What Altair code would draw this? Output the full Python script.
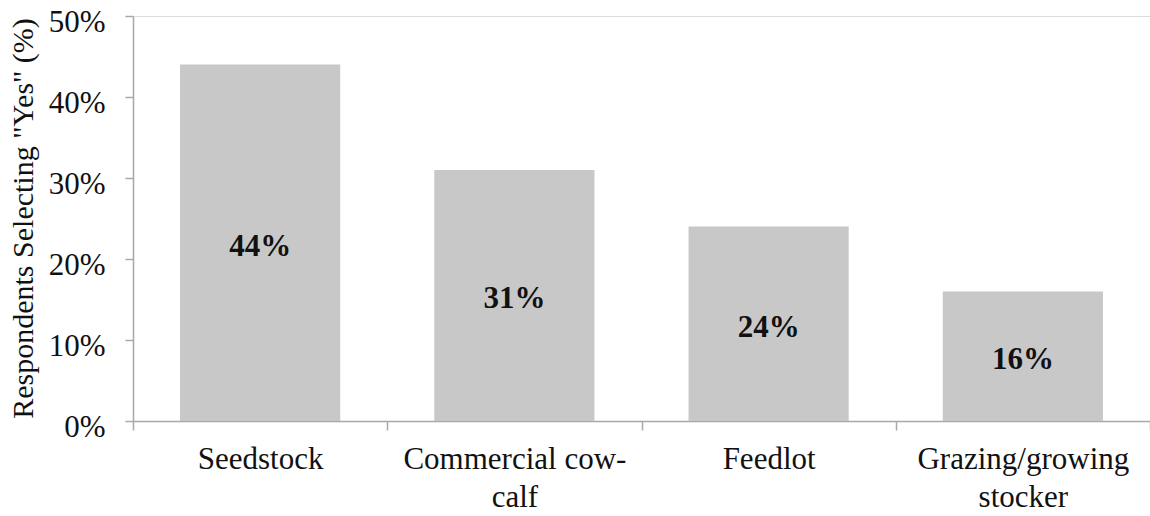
import altair as alt
import pandas as pd

categories = ["Seedstock", "Commercial cow-calf", "Feedlot", "Grazing/growing stocker"]
values = [0.44, 0.31, 0.24, 0.16]
label_lines = {
    "Seedstock": ["Seedstock"],
    "Commercial cow-calf": ["Commercial cow-", "calf"],
    "Feedlot": ["Feedlot"],
    "Grazing/growing stocker": ["Grazing/growing", "stocker"],
}
y_ticks = [0, 0.1, 0.2, 0.3, 0.4, 0.5]

df = pd.DataFrame({"category": categories, "value": values})

expr = "''"
for cat in reversed(categories):
    lines = ", ".join("'" + l + "'" for l in label_lines[cat])
    expr = f"datum.value == '{cat}' ? [{lines}] : ({expr})"

FONT = "'Liberation Serif', 'Times New Roman', Times, serif"
AXIS_COLOR = "#a8a8a8"

x = alt.X(
    "category:N",
    sort=categories,
    scale=alt.Scale(paddingInner=0, paddingOuter=0),
    axis=alt.Axis(
        title=None,
        labelAngle=0,
        labelExpr=expr,
        labelFont=FONT,
        labelFontSize=31,
        labelColor="#111111",
        labelLineHeight=38,
        labelPadding=14,
        labelBaseline="top",
        labelLimit=400,
        tickBand="extent",
        tickSize=9,
        tickColor=AXIS_COLOR,
        domainColor=AXIS_COLOR,
        domainWidth=1.5,
        tickWidth=1.5,
        grid=False,
    ),
)

bars = alt.Chart(df).mark_bar(color="#c8c8c8", width=alt.RelativeBandSize(0.63)).encode(
    x=x,
    y=alt.Y(
        "value:Q",
        scale=alt.Scale(domain=[0, 0.5], nice=False),
        axis=alt.Axis(
            title='Respondents Selecting "Yes" (%)',
            titleFont=FONT,
            titleFontSize=30,
            titleFontWeight="normal",
            titleColor="#111111",
            titleX=-110,
            titleY=202,
            titleAngle=-90,
            titleAlign="center",
            titleBaseline="middle",
            values=y_ticks,
            format=".0%",
            labelFont=FONT,
            labelFontSize=31,
            labelColor="#111111",
            labelPadding=20,
            labelOffset=6,
            tickSize=8,
            tickColor=AXIS_COLOR,
            domainColor=AXIS_COLOR,
            domainWidth=1.5,
            tickWidth=1.5,
            grid=False,
        ),
    ),
)

text = alt.Chart(df).transform_calculate(mid="datum.value / 2").mark_text(
    font=FONT, fontSize=31, fontWeight="bold", color="#111111", baseline="middle", dy=4
).encode(
    x=alt.X("category:N", sort=categories),
    y=alt.Y("mid:Q"),
    text=alt.Text("value:Q", format=".0%"),
)

chart = (
    alt.layer(bars, text)
    .properties(
        width=1017,
        height=405,
        autosize=alt.AutoSizeParams(type="none"),
        padding={"left": 133, "top": 16, "right": 0, "bottom": 95},
    )
    .configure_view(stroke=None)
    .configure(background="white")
)

chart.save("out.html", embed_options={"renderer": "svg", "actions": False})
